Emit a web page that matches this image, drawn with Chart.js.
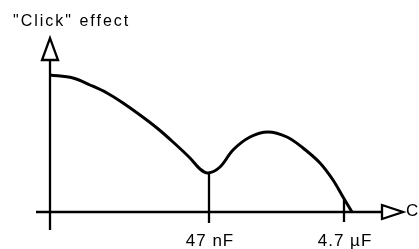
<!DOCTYPE html>
<html lang="en">
<head>
  <meta charset="UTF-8" />
  <title>Click effect</title>
  <script src="https://cdn.jsdelivr.net/npm/chart.js"></script>
  <style>
    html, body { margin: 0; padding: 0; background: #fff; }
    #wrap { width: 419px; height: 249px; }
  </style>
</head>
<body>
  <div id="wrap"><canvas id="chart"></canvas></div>
  <script>
    // curve (x = capacitance position, y = click effect)
    const curveX = [0, 23, 40, 57, 73, 90, 107, 123, 140, 150, 158, 170, 183, 200, 218, 237, 253, 270, 283, 293, 302];
    const curveY = [137, 134, 127, 119, 109, 97, 84, 70, 54, 43, 39, 45, 62, 75, 80, 75, 64, 49, 32, 15, 0];
    const tickValues = [159, 294];
    const tickLabels = ["47 nF", "4.7 µF"];
    const yAxisTitle = '"Click" effect';
    const xAxisTitle = "C";

    const axesPlugin = {
      id: "axes",
      afterDatasetsDraw(chart) {
        const { ctx, scales: { x, y } } = chart;
        const px = v => x.getPixelForValue(v);
        const py = v => y.getPixelForValue(v);
        ctx.save();
        ctx.strokeStyle = "#000";
        ctx.lineWidth = 2.3;
        ctx.lineJoin = "miter";

        // y axis + hollow arrow
        ctx.beginPath();
        ctx.moveTo(px(0), py(-18));
        ctx.lineTo(px(0), py(152));
        ctx.stroke();
        ctx.beginPath();
        ctx.moveTo(px(-8), py(152));
        ctx.lineTo(px(8), py(152));
        ctx.lineTo(px(0), py(174));
        ctx.closePath();
        ctx.fillStyle = "#fff";
        ctx.fill();
        ctx.stroke();

        // x axis + hollow arrow
        ctx.beginPath();
        ctx.moveTo(px(-14), py(0));
        ctx.lineTo(px(332), py(0));
        ctx.stroke();
        ctx.beginPath();
        ctx.moveTo(px(332), py(7));
        ctx.lineTo(px(332), py(-7));
        ctx.lineTo(px(353), py(0));
        ctx.closePath();
        ctx.fill();
        ctx.stroke();

        // ticks: first one runs up to the curve minimum
        ctx.beginPath();
        ctx.moveTo(px(tickValues[0]), py(39));
        ctx.lineTo(px(tickValues[0]), py(-11));
        ctx.moveTo(px(tickValues[1]), py(12));
        ctx.lineTo(px(tickValues[1]), py(-10));
        ctx.stroke();

        ctx.fillStyle = "#000";
        ctx.font = "17px 'Liberation Sans', Arial, sans-serif";
        ctx.letterSpacing = "1px";
        ctx.textAlign = "center";
        ctx.textBaseline = "middle";
        tickValues.forEach((v, i) => {
          ctx.fillText(tickLabels[i], px(v) + 1, py(-29));
        });

        ctx.textAlign = "left";
        ctx.fillText(xAxisTitle, px(356), py(1));
        ctx.font = "16px 'Liberation Sans', Arial, sans-serif";
        ctx.letterSpacing = "2px";
        ctx.fillText(yAxisTitle, px(-37), py(190));
        ctx.restore();
      }
    };

    new Chart(document.getElementById("chart"), {
      type: "line",
      data: {
        datasets: [{
          data: curveX.map((v, i) => ({ x: v, y: curveY[i] })),
          borderColor: "#000",
          borderWidth: 3,
          pointRadius: 0,
          fill: false,
          tension: 0.35
        }]
      },
      options: {
        responsive: true,
        maintainAspectRatio: false,
        animation: false,
        layout: { padding: 0 },
        plugins: { legend: { display: false }, tooltip: { enabled: false } },
        scales: {
          x: { type: "linear", min: -50, max: 369, display: false },
          y: { type: "linear", min: -37, max: 212, display: false }
        }
      },
      plugins: [axesPlugin]
    });
  </script>
</body>
</html>
